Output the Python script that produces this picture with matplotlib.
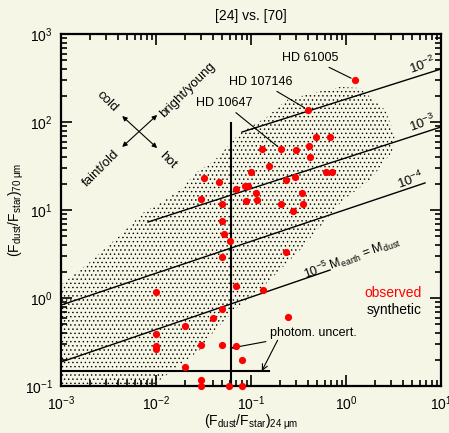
import matplotlib
matplotlib.use("Agg")
import matplotlib.pyplot as plt
from matplotlib.patches import Polygon

plt.rcParams['font.family'] = ['Liberation Sans', 'DejaVu Sans']
plt.rcParams['mathtext.fontset'] = 'custom'
plt.rcParams['mathtext.rm'] = 'Liberation Sans'
plt.rcParams['mathtext.it'] = 'Liberation Sans:italic'
plt.rcParams['mathtext.bf'] = 'Liberation Sans:bold'
plt.rcParams['hatch.linewidth'] = 0.5

BG = '#f6f6e6'

# observed systems (F_dust/F_star at 24 and 70 micron)
obs_x = [1.24, 0.40, 0.48, 0.68, 0.13, 0.207, 0.298, 0.408, 0.418, 0.155,
         0.10, 0.032, 0.046, 0.0695, 0.0865, 0.093, 0.113, 0.233, 0.29, 0.615,
         0.71, 0.344, 0.0298, 0.0495, 0.0885, 0.116, 0.207, 0.277, 0.352, 0.0495,
         0.052, 0.060, 0.233, 0.0495, 0.134, 0.0695, 0.010, 0.245, 0.0495, 0.040,
         0.0202, 0.010, 0.010, 0.010, 0.0298, 0.0495, 0.0695, 0.080, 0.0202, 0.0298,
         0.0298, 0.0586, 0.080]
obs_y = [300, 137, 68, 68, 49, 49, 48, 53, 40, 32,
         27, 23, 21, 17.3, 18.7, 18.7, 15.6, 21.9, 23.7, 27,
         27, 15.6, 13.3, 11.7, 12.6, 13.0, 11.7, 9.75, 11.7, 7.5,
         5.34, 4.45, 3.33, 2.92, 1.23, 1.37, 1.17, 0.61, 0.75, 0.59,
         0.48, 0.39, 0.285, 0.263, 0.29, 0.29, 0.285, 0.197, 0.164, 0.117,
         0.10, 0.10, 0.10]

# outline of the synthetic population cloud
cloud_x = [0.001, 0.00976, 0.0110, 0.0179, 0.029, 0.0418, 0.0766, 0.147, 0.328, 0.93,
           1.79, 3.05, 3.28, 2.58, 1.40, 0.865, 0.45, 0.239, 0.147, 0.0766,
           0.0418, 0.027, 0.0179, 0.01245, 0.0073, 0.0042, 0.00202, 0.001]
cloud_y = [0.1, 0.1, 0.117, 0.173, 0.257, 0.433, 0.83, 1.48, 3.51, 13.0,
           21.9, 45.6, 71, 137, 243, 250, 214, 178, 114, 75,
           37, 27, 16.9, 13, 9.25, 5.2, 2.57, 1.41]

# lines of constant dust mass (M_earth): start and end points
mass_labels = ['10$^{-2}$', '10$^{-3}$', '10$^{-4}$',
               '10$^{-5}$ M$_{\\rm earth}$ = M$_{\\rm dust}$']
mass_x0 = [0.0804, 0.00824, 0.001, 0.001]
mass_y0 = [76.9, 7.3, 0.83, 0.187]
mass_x1 = [10.0, 10.0, 6.79, 0.68]
mass_y1 = [400, 87.7, 20.3, 2.08]

# photometric uncertainty limits
unc_x24 = 0.0616
unc_y70 = 0.148
unc_ytop = 97.5
unc_xend = 0.155

# labelled stars: name, point
star_names = ['HD 61005', 'HD 107146', 'HD 10647']
star_x = [1.24, 0.40, 0.207]
star_y = [300, 137, 49]

fig = plt.figure(figsize=(4.49, 4.33), dpi=100, facecolor=BG)
ax = fig.add_axes([61/449, 1-386/433, 380/449, 352/433], facecolor=BG)
ax.set_xscale('log')
ax.set_yscale('log')
ax.set_xlim(1e-3, 10)
ax.set_ylim(0.1, 1000)

# synthetic cloud
poly = Polygon(list(zip(cloud_x, cloud_y)), closed=True, facecolor='none',
               edgecolor='black', linewidth=0, hatch='....', zorder=1)
ax.add_patch(poly)

for x0, y0, x1, y1 in zip(mass_x0, mass_y0, mass_x1, mass_y1):
    ax.plot([x0, x1], [y0, y1], color='black', lw=1.0, zorder=2, clip_on=True)

label_pos = [(0.95, 0.912), (0.95, 0.747), (0.921, 0.585), (0.766, 0.364)]
label_size = [9.5, 9.5, 9.5, 9]
for lab, (fx, fy), fs in zip(mass_labels, label_pos, label_size):
    ax.text(fx, fy, lab, transform=ax.transAxes, rotation=20, ha='center',
            va='center', fontsize=fs, rotation_mode='anchor')

# photometric uncertainty lines
ax.plot([unc_x24, unc_x24], [0.1, unc_ytop], color='black', lw=1.5, zorder=3)
ax.plot([1e-3, unc_xend], [unc_y70, unc_y70], color='black', lw=1.5, zorder=3)

ax.plot(obs_x, obs_y, 'o', color='#ff0000', ms=5.2, mec='none', zorder=4,
        clip_on=False)

# star labels
txt_pos = [(0.655, 0.932), (0.526, 0.864), (0.429, 0.804)]
for name, x, y, (fx, fy) in zip(star_names, star_x, star_y, txt_pos):
    ax.annotate(name, xy=(x, y), xycoords='data', xytext=(fx, fy),
                textcoords='axes fraction', ha='center', va='center', fontsize=9,
                arrowprops=dict(arrowstyle='-', color='black', lw=0.8,
                                shrinkA=1, shrinkB=3))

# photom. uncert. label
ax.annotate('photom. uncert.', xy=(unc_x24, 0.27), xycoords='data',
            xytext=(0.550, 0.151), textcoords='axes fraction', ha='left',
            va='center', fontsize=9,
            arrowprops=dict(arrowstyle='->', color='black', lw=0.8,
                            shrinkA=1, shrinkB=0))
ax.annotate('', xy=(0.13, unc_y70), xycoords='data',
            xytext=(0.57, 0.13), textcoords='axes fraction',
            arrowprops=dict(arrowstyle='->', color='black', lw=0.8,
                            shrinkA=0, shrinkB=0))

# direction cross
for (ax0, ay0), (ax1, ay1) in [((0.161, 0.767), (0.253, 0.676)),
                               ((0.161, 0.679), (0.253, 0.770))]:
    ax.annotate('', xy=(ax0, ay0), xytext=(ax1, ay1), xycoords='axes fraction',
                textcoords='axes fraction',
                arrowprops=dict(arrowstyle='<|-|>', color='black', lw=0.8,
                                mutation_scale=7, shrinkA=0, shrinkB=0))
ax.text(0.121, 0.807, 'cold', transform=ax.transAxes, rotation=-45,
        ha='center', va='center', fontsize=9.5)
ax.text(0.332, 0.841, 'bright/young', transform=ax.transAxes, rotation=45,
        ha='center', va='center', fontsize=9.5)
ax.text(0.105, 0.619, 'faint/old', transform=ax.transAxes, rotation=45,
        ha='center', va='center', fontsize=9.5)
ax.text(0.282, 0.642, 'hot', transform=ax.transAxes, rotation=-45,
        ha='center', va='center', fontsize=9.5)

# legend text
ax.text(0.95, 0.264, 'observed', transform=ax.transAxes, color='#ff0000',
        ha='right', va='center', fontsize=10)
ax.text(0.95, 0.216, 'synthetic', transform=ax.transAxes, color='black',
        ha='right', va='center', fontsize=10)

for s in ax.spines.values():
    s.set_linewidth(1.6)
ax.tick_params(which='both', direction='in', top=True, right=True, width=1.2,
               labelsize=10)
ax.tick_params(which='major', length=8, pad=6)
ax.tick_params(which='minor', length=4)

ax.set_xlabel(r'$(\mathrm{F}_{\mathrm{dust}}/\mathrm{F}_{\mathrm{star}})_{\mathrm{24\ μm}}$',
              fontsize=10)
ax.set_ylabel(r'$(\mathrm{F}_{\mathrm{dust}}/\mathrm{F}_{\mathrm{star}})_{\mathrm{70\ μm}}$',
              fontsize=10)
ax.xaxis.set_label_coords(0.5, -0.075)
ax.yaxis.set_label_coords(-0.092, 0.5)
ax.set_title('[24] vs. [70]', fontsize=10, pad=10)

fig.savefig('out.png', dpi=100, facecolor=BG)
